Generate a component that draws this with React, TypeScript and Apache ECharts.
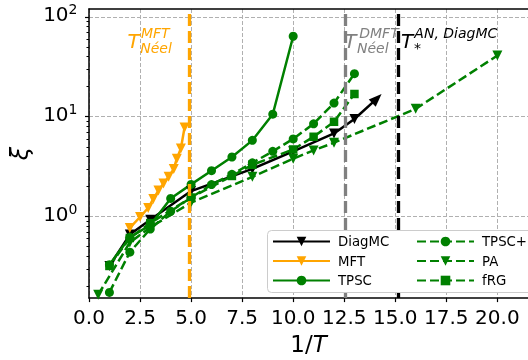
import React, { useEffect, useRef } from "react";
import * as echarts from "echarts";

const FONT = "DejaVu Sans";
const GREEN = "#008000";
const ORANGE = "#ffa500";
const GRAY = "#808080";

// axes
const xTickValues = [0, 2.5, 5, 7.5, 10, 12.5, 15, 17.5, 20];
const yDecadeExponents = [0, 1, 2];
const yMinorValues = [0.2, 0.3, 0.4, 0.5, 0.6, 0.7, 0.8, 0.9, 2, 3, 4, 5, 6, 7, 8, 9, 20, 30, 40, 50, 60, 70, 80, 90];
const xMin = 0;
const xMax = 21.5;
const yMinVal = 0.1525;
const yMaxVal = 120;

// series data (x = 1/T, y = xi)
const diagmcX = [1, 2, 3, 5, 8, 10, 12, 13, 14.1];
const diagmcY = [0.32, 0.66, 0.93, 1.8, 3.0, 4.5, 6.8, 9.5, 15.2];

const mftX = [2.0, 2.5, 2.9, 3.15, 3.4, 3.65, 3.9, 4.15, 4.3, 4.5, 4.68];
const mftY = [0.77, 0.99, 1.22, 1.5, 1.82, 2.15, 2.5, 3.0, 3.8, 4.8, 7.8];

const tpscX = [1, 2, 3, 4, 5, 6, 7, 8, 9, 10];
const tpscY = [0.33, 0.62, 0.82, 1.52, 2.1, 2.88, 3.95, 5.8, 10.6, 64];

const tpscPlusX = [1, 2, 3, 4, 5, 6, 7, 8, 9, 10, 11, 12, 13];
const tpscPlusY = [0.174, 0.44, 0.75, 1.13, 1.55, 2.09, 2.65, 3.45, 4.5, 6.0, 8.5, 13.7, 27];

const paX = [0.45, 2, 3, 5, 8, 10, 11, 12, 16, 20];
const paY = [0.165, 0.55, 0.78, 1.38, 2.5, 3.8, 4.6, 5.5, 12, 41];

const frgX = [1, 2, 3, 5, 7, 8, 10, 11, 12, 13];
const frgY = [0.32, 0.61, 0.86, 1.55, 2.55, 3.3, 4.7, 6.3, 8.9, 16.9];

// vertical reference lines
const tNeelMFT = 4.92;
const tNeelDMFT = 12.55;
const tStarDiagMC = 15.15;

const legendLeft = ["DiagMC", "MFT", "TPSC"];
const legendRight = ["TPSC+", "PA", "fRG"];

const lg = (v: number) => Math.log10(v);
const pts = (xs: number[], ys: number[]) => xs.map((x, i) => [x, lg(ys[i])]);

export default function App() {
  const ref = useRef<HTMLDivElement>(null);
  useEffect(() => {
    if (!ref.current) return;
    const chart = echarts.init(ref.current, null, { renderer: "svg" });

    const dashed = [9, 4];
    const baseLine = (name: string, color: string, type: "solid" | "dashed", symbol: string, rot: number, size: number, data: any[]) => ({
      name,
      type: "line",
      data,
      symbol,
      symbolRotate: rot,
      symbolSize: size,
      showSymbol: true,
      clip: true,
      lineStyle: { color, width: 2.5, type: type === "dashed" ? dashed : "solid" },
      itemStyle: { color },
      emphasis: { disabled: true },
    });

    const diagData: any[] = pts(diagmcX, diagmcY).map((p, i, arr) =>
      i === arr.length - 1
        ? { value: p, symbol: "triangle", symbolRotate: -46, symbolSize: [10, 13] }
        : p
    );

    const vline = (x: number, color: string) => ({
      xAxis: x,
      lineStyle: { color, width: 3.3, type: [12, 5] },
    });

    const legendBase = {
      orient: "vertical",
      top: 235,
      padding: 0,
      itemWidth: 57,
      itemHeight: 12,
      itemGap: 6.5,
      z: 60,
      textStyle: { fontSize: 13.3, fontFamily: FONT, color: "#000", padding: [0, 0, 0, 3] },
    };

    const option: any = {
      animation: false,
      grid: { left: 89, right: 0, top: 9, bottom: 59, containLabel: false },
      xAxis: [
        {
          type: "value",
          min: xMin,
          max: xMax,
          position: "bottom",
          name: "{n|1/}{i|T}",
          nameLocation: "middle",
          nameGap: 33,
          nameTextStyle: {
            rich: {
              n: { fontSize: 23, fontFamily: FONT, color: "#000" },
              i: { fontSize: 23, fontFamily: FONT, fontStyle: "italic", color: "#000" },
            },
          },
          axisLine: { show: true, onZero: false, lineStyle: { color: "#000", width: 1.5 } },
          axisTick: { show: true, customValues: xTickValues, length: 4, lineStyle: { color: "#000", width: 1.2 } },
          axisLabel: {
            customValues: xTickValues,
            margin: 9,
            fontSize: 20,
            fontFamily: FONT,
            color: "#000",
            formatter: (v: number) => v.toFixed(1),
          },
          splitLine: { show: true, lineStyle: { color: "#b0b0b0", width: 1, type: [4, 2] } },
        },
        {
          type: "value",
          min: xMin,
          max: xMax,
          position: "top",
          axisLine: { show: true, onZero: false, lineStyle: { color: "#000", width: 1.5 } },
          axisTick: { show: false },
          axisLabel: { show: false },
          splitLine: { show: false },
        },
      ],
      yAxis: [
        {
          type: "value",
          min: lg(yMinVal),
          max: lg(yMaxVal),
          position: "left",
          name: "ξ",
          nameLocation: "middle",
          nameRotate: 90,
          nameGap: 55,
          nameTextStyle: { fontSize: 24, fontFamily: FONT, fontStyle: "italic", color: "#000" },
          axisLine: { show: true, onZero: false, lineStyle: { color: "#000", width: 1.5 } },
          axisTick: { show: true, customValues: yDecadeExponents, length: 4, lineStyle: { color: "#000", width: 1.2 } },
          axisLabel: {
            customValues: yDecadeExponents,
            margin: 11.5,
            padding: [0, 0, 7, 0],
            formatter: (v: number) => `{b|10}{s|${Math.round(v)}}`,
            rich: {
              b: { fontSize: 20, fontFamily: FONT, color: "#000", verticalAlign: "bottom" },
              s: { fontSize: 14, fontFamily: FONT, color: "#000", verticalAlign: "bottom", padding: [0, 0, 8, 0] },
            },
          },
          splitLine: { show: true, lineStyle: { color: "#b0b0b0", width: 1, type: [4, 2] } },
        },
        {
          type: "value",
          min: lg(yMinVal),
          max: lg(yMaxVal),
          position: "left",
          axisLine: { show: false },
          axisTick: { show: true, customValues: yMinorValues.map(lg), length: 2.5, lineStyle: { color: "#000", width: 1 } },
          axisLabel: { show: false },
          splitLine: { show: false },
        },
      ],
      legend: [
        { ...legendBase, data: legendLeft, left: 272 },
        { ...legendBase, data: legendRight, left: 416 },
      ],
      series: [
        {
          name: "vlines",
          type: "line",
          data: [],
          z: 1,
          markLine: {
            silent: true,
            symbol: ["none", "none"],
            label: { show: false },
            animation: false,
            data: [vline(tNeelMFT, ORANGE), vline(tNeelDMFT, GRAY), vline(tStarDiagMC, "#000")],
          },
        },
        baseLine("DiagMC", "#000", "solid", "triangle", 180, 10, diagData),
        baseLine("MFT", ORANGE, "solid", "triangle", 180, 10, pts(mftX, mftY)),
        baseLine("TPSC", GREEN, "solid", "circle", 0, 9, pts(tpscX, tpscY)),
        baseLine("TPSC+", GREEN, "dashed", "circle", 0, 9, pts(tpscPlusX, tpscPlusY)),
        baseLine("PA", GREEN, "dashed", "triangle", 180, 10, pts(paX, paY)),
        baseLine("fRG", GREEN, "dashed", "rect", 0, 8.5, pts(frgX, frgY)),
      ],
    };
    chart.setOption(option);

    const px = (v: number) => chart.convertToPixel({ xAxisIndex: 0 }, v) as number;
    const mathText = (x: number, y: number, text: string, size: number, color: string) => ({
      type: "text",
      x,
      y,
      z: 30,
      silent: true,
      style: {
        text,
        fontSize: size,
        fontFamily: FONT,
        fontStyle: "italic",
        fill: color,
        align: "left",
        verticalAlign: "middle",
      },
    });
    const lm = px(tNeelMFT);
    const ld = px(tNeelDMFT);
    const ls = px(tStarDiagMC);
    chart.setOption({
      graphic: [
        {
          type: "rect",
          z: 50,
          silent: true,
          shape: { x: 267.5, y: 230.5, width: 300, height: 62, r: 4 },
          style: { fill: "#ffffff", stroke: "#cccccc", lineWidth: 1 },
        },
        mathText(lm - 62, 40.5, "T", 20, ORANGE),
        mathText(lm - 48.5, 33.3, "MFT", 14, ORANGE),
        mathText(lm - 49.2, 48.2, "Néel", 14, ORANGE),
        mathText(ld - 1, 40.5, "T", 20, GRAY),
        mathText(ld + 14, 33.3, "DMFT", 14, GRAY),
        mathText(ld + 11.7, 48.2, "Néel", 14, GRAY),
        mathText(ls + 2.7, 40.5, "T", 20, "#000"),
        mathText(ls + 16, 33.3, "AN, DiagMC", 14, "#000"),
        mathText(ls + 15.7, 48.2, "*", 14, "#000"),
      ],
    });

    return () => chart.dispose();
  }, []);
  return <div ref={ref} style={{ position: "fixed", left: 0, top: 0, width: 528, height: 360 }} />;
}
